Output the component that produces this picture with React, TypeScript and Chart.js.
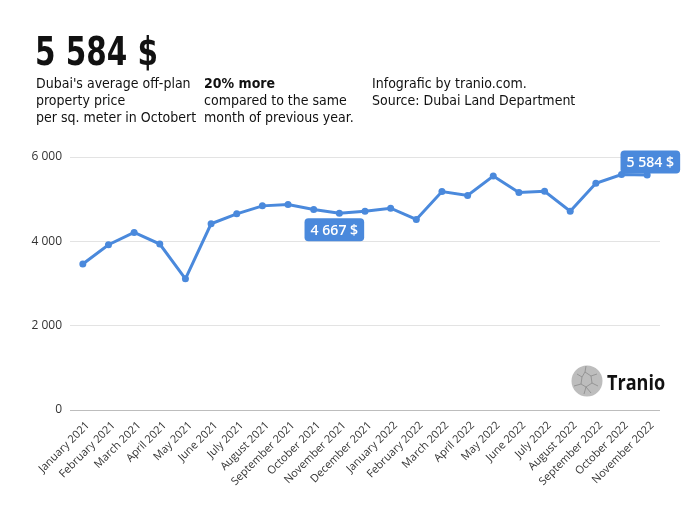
import React, { useEffect, useRef } from "react";
import { Chart, registerables } from "chart.js";

Chart.register(...registerables);

const months = [
  "January 2021", "February 2021", "March 2021", "April 2021", "May 2021", "June 2021",
  "July 2021", "August 2021", "September 2021", "October 2021", "November 2021", "December 2021",
  "January 2022", "February 2022", "March 2022", "April 2022", "May 2022", "June 2022",
  "July 2022", "August 2022", "September 2022", "October 2022", "November 2022",
];
const prices = [
  3464, 3920, 4212, 3936, 3110, 4416, 4652, 4841, 4873, 4756, 4667, 4716,
  4786, 4519, 5180, 5086, 5549, 5157, 5187, 4716, 5377, 5584, 5573,
];
const yTicks = [0, 2000, 4000, 6000];
const calloutIndices = [10, 21];
const calloutPlacement = ["below", "aboveRight"];

const BLUE = "#4a89dc";
const NARROW = '"Liberation Sans Narrow", "DejaVu Sans Condensed", "Roboto", sans-serif';

function fmt(n: number): string {
  return String(n).replace(/\B(?=(\d{3})+(?!\d))/g, " ");
}

const calloutPlugin = {
  id: "callouts",
  afterDatasetsDraw(chart: any) {
    const ctx = chart.ctx;
    const meta = chart.getDatasetMeta(0);
    ctx.save();
    ctx.font = `600 15px "Open Sans", sans-serif`;
    const squeeze = 0.94;
    calloutIndices.forEach((idx, k) => {
      const pt = meta.data[idx];
      if (!pt) return;
      const text = fmt(prices[idx]) + " $";
      const tw = ctx.measureText(text).width * squeeze;
      const w = tw + 12;
      const h = 23;
      let bx: number, by: number;
      if (calloutPlacement[k] === "below") {
        bx = pt.x - w / 2 - 5;
        by = pt.y + 5;
      } else {
        bx = pt.x - 1;
        by = pt.y - h - 1;
      }
      ctx.fillStyle = BLUE;
      ctx.beginPath();
      (ctx as any).roundRect(bx, by, w, h, 4);
      ctx.fill();
      ctx.save();
      ctx.translate(bx + w / 2, by + h / 2 + 1);
      ctx.scale(squeeze, 1);
      ctx.fillStyle = "#ffffff";
      ctx.textAlign = "center";
      ctx.textBaseline = "middle";
      ctx.fillText(text, 0, 0);
      ctx.restore();
    });
    ctx.restore();
  },
};

export default function App() {
  const ref = useRef<HTMLCanvasElement | null>(null);

  useEffect(() => {
    if (!ref.current) return;
    const chart = new Chart(ref.current, {
      type: "line",
      data: {
        labels: months,
        datasets: [
          {
            data: prices,
            borderColor: BLUE,
            backgroundColor: BLUE,
            borderWidth: 3,
            pointRadius: 3.5,
            pointBackgroundColor: BLUE,
            pointBorderWidth: 0,
            tension: 0,
          },
        ],
      },
      options: {
        animation: false,
        responsive: false,
        devicePixelRatio: 1,
        layout: { padding: { top: 157, right: 33, left: 0, bottom: 0 } },
        plugins: { legend: { display: false }, tooltip: { enabled: false } },
        scales: {
          x: {
            offset: true,
            grid: { display: false, drawTicks: false },
            border: { display: false },
            ticks: {
              minRotation: 45,
              maxRotation: 45,
              autoSkip: false,
              labelOffset: 5,
              font: { family: '"Open Sans", sans-serif', size: 11 },
              color: "#333",
              padding: 9,
            },
            afterFit: (s: any) => { s.height = 110; },
          },
          y: {
            min: 0,
            max: 6000,
            afterBuildTicks: (s: any) => { s.ticks = yTicks.map((v) => ({ value: v })); },
            grid: {
              drawTicks: false,
              color: (c: any) => (c.tick && c.tick.value === 0 ? "#bdbdbd" : "#e3e3e3"),
              lineWidth: 1,
            },
            border: { display: false },
            ticks: {
              callback: (v: any) => fmt(Number(v)),
              font: { family: '"Open Sans", sans-serif', size: 12 },
              color: "#333",
              padding: 8,
            },
            afterFit: (s: any) => { s.width = 70; },
          },
        },
      },
      plugins: [calloutPlugin],
    });
    return () => chart.destroy();
  }, []);

  const rowStyle: React.CSSProperties = {
    position: "absolute",
    top: 75,
    fontFamily: NARROW,
    fontSize: 14,
    lineHeight: "17px",
    color: "#111",
    whiteSpace: "nowrap",
  };

  return (
    <div style={{ position: "fixed", left: 0, top: 0, width: 693, height: 520, background: "#fff", overflow: "hidden" }}>
      <canvas ref={ref} width={693} height={520} style={{ position: "absolute", left: 0, top: 0 }} />
      <div style={{ position: "absolute", left: 35, top: 31, fontFamily: NARROW, fontWeight: "bold", fontSize: 39, lineHeight: "42px", color: "#111", whiteSpace: "nowrap", transform: "scaleX(0.84)", transformOrigin: "left center" }}>
        5 584 $
      </div>
      <div style={{ ...rowStyle, left: 36 }}>
        Dubai's average off-plan<br />property price<br />per sq. meter in Octobert
      </div>
      <div style={{ ...rowStyle, left: 204 }}>
        <b>20% more</b><br />compared to the same<br />month of previous year.
      </div>
      <div style={{ ...rowStyle, left: 372 }}>
        Infografic by tranio.com.<br />Source: Dubai Land Department
      </div>
      <div style={{ position: "absolute", left: 571, top: 365, width: 32, height: 32 }}>
        <svg width="32" height="32" viewBox="0 0 32 32">
          <circle cx="16" cy="16" r="15.5" fill="#bdbdbd" />
          <path d="M6 9 L11 12 L10 19 L15 22 L21 18 L20 11 L14 7 L11 12 M20 11 L26 9 M21 18 L27 21 M15 22 L13 29 M10 19 L3 21 M14 7 L15 1 M15 22 L20 28" stroke="#8a8a8a" strokeWidth="0.8" fill="none" />
        </svg>
      </div>
      <div style={{ position: "absolute", left: 607, top: 369, fontFamily: '"Open Sans", sans-serif', fontWeight: 700, fontSize: 21, lineHeight: "26px", color: "#111", transform: "scaleX(0.86)", transformOrigin: "left center" }}>
        Tranio
      </div>
    </div>
  );
}
